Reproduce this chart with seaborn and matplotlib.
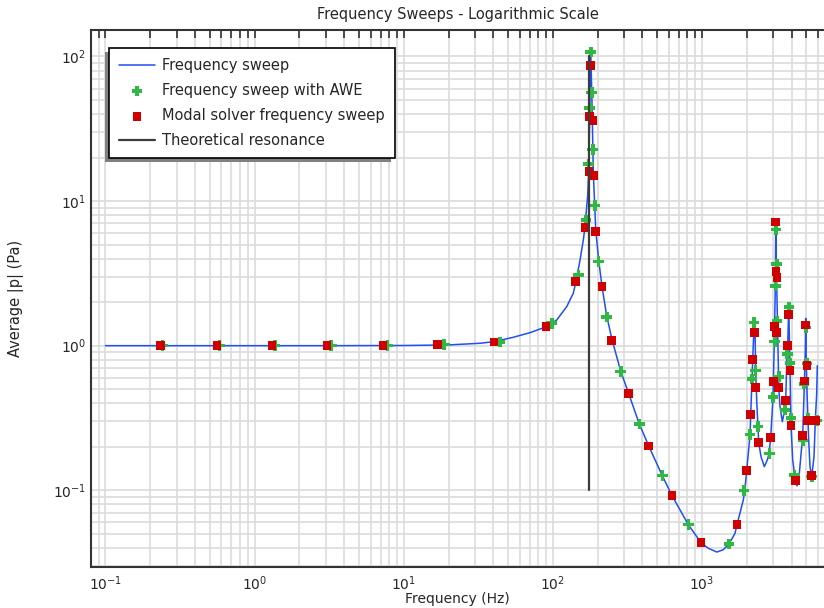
import matplotlib
matplotlib.use('Agg')
import matplotlib.pyplot as plt
import seaborn as sns
from matplotlib.patches import Rectangle

# Frequency sweep (blue curve): frequency in Hz, average |p| in Pa
sweep_freq = [0.1, 0.316, 1.0, 3.16, 10, 20, 32.5, 40.4, 54.4, 70.4,
              90.2, 106.4, 124.1, 137.4, 143, 152.5, 160.4, 164.7, 169.0, 171.7,
              174.5, 177.1, 179.8, 182.6, 184.5, 187.2, 191.3, 194.3, 203.5, 214.1,
              230.2, 249.8, 285.8, 323.4, 380.9, 440.5, 543.4, 631.1, 812.1,
              987.6, 1106, 1259, 1388, 1522, 1670, 1722, 1804, 1898, 1940,
              2000, 2106, 2128, 2171, 2194, 2249, 2274, 2298, 2334, 2407,
              2495, 2626, 2750, 2823, 2898, 3003, 3064, 3112, 3135, 3160,
              3195, 3245, 3280, 3347, 3467, 3597, 3653, 3727, 3768, 3826,
              3862, 3904, 3964, 4070, 4198, 4350, 4508, 4750, 4869, 4945,
              4975, 5021, 5099, 5210, 5317, 5459, 5656, 5770, 5897, 5951]
sweep_p = [1.0, 1.0, 1.0, 1.0, 1.003, 1.012, 1.039, 1.066, 1.143, 1.23,
           1.35, 1.506, 1.861, 2.304, 2.77, 3.91, 5.38, 6.65, 9.15, 11.0,
           17.0, 40.0, 110, 58, 35, 15.5, 9.35, 6.3, 3.87, 2.56,
           1.605, 1.104, 0.665, 0.466, 0.287, 0.2025, 0.126, 0.0918, 0.0578,
           0.0434, 0.0397, 0.0374, 0.0387, 0.0425, 0.0504, 0.0578, 0.0697, 0.0857, 0.0994,
           0.1366, 0.2424, 0.333, 0.588, 0.80, 1.50, 1.284, 0.672, 0.421, 0.2134,
           0.1708, 0.1456, 0.162, 0.179, 0.231, 0.4396, 1.066, 2.588, 7.40, 3.61,
           2.07, 0.934, 0.512, 0.379, 0.298, 0.359, 0.4165, 0.876, 1.0, 1.861,
           1.218, 0.672, 0.280, 0.162, 0.127, 0.107, 0.131, 0.2385, 0.535, 0.934,
           1.547, 0.751, 0.421, 0.2228, 0.1456, 0.1242, 0.1708, 0.303, 0.469, 0.727]

# Frequency sweep with AWE (green crosses)
awe_freq = [0.242, 0.581, 1.373, 3.27, 7.78, 18.7, 44.3, 98.5, 148.5, 167.3,
            174.3, 177.1, 179.8, 182.6, 185.5, 191.3, 202.2, 230.2, 285.8, 380.9,
            543.4, 812.1, 1522, 1919, 2106, 2171, 2239, 2298, 2382, 2836,
            3003, 3083, 3195, 3146, 3180, 3112, 3280, 3613, 3742, 3845,
            3904, 3964, 4172, 4772, 4847, 4999, 5069, 5459, 5173, 5897]
awe_p = [1.0, 1.0, 1.0, 1.0, 1.0, 1.02, 1.06, 1.43, 3.08, 7.40,
         18.06, 44.0, 107.5, 56.2, 22.8, 9.35, 3.83, 1.58, 0.665, 0.2874,
         0.1262, 0.0578, 0.0425, 0.0994, 0.2424, 0.588, 1.443, 0.6716, 0.2753, 0.179,
         0.4396, 1.066, 1.482, 6.38, 3.66, 2.588, 0.610, 0.359, 0.876, 1.843,
         0.7555, 0.3147, 0.127, 0.2203, 0.5434, 1.34, 0.751, 0.1242, 0.3127, 0.303]

# Modal solver frequency sweep (red squares)
modal_freq = [0.235, 0.560, 1.31, 3.06, 7.28, 16.9, 40.4, 90.2, 143, 166.5,
              194.3, 175.2, 187.2, 177.1, 184.3, 179.8, 214.1, 248.7, 323.4, 440.5,
              631.1, 987.6, 1722, 2000, 2128, 2194, 2263, 2298, 2407, 2898,
              3035, 3083, 3180, 3131, 3146, 3195, 3280, 3653, 3768, 3826,
              3904, 3964, 4264, 4750, 4900, 4975, 5069, 5459, 5069, 5459,
              5833]
modal_p = [1.0, 1.0, 1.0, 1.0, 1.0, 1.016, 1.06, 1.35, 2.77, 6.59,
           6.14, 15.97, 15.0, 38.3, 36.0, 86.4, 2.56, 1.083, 0.466, 0.2025,
           0.0918, 0.0434, 0.0578, 0.1366, 0.333, 0.80, 1.23, 0.5124, 0.2134, 0.231,
           0.5637, 1.353, 1.23, 7.17, 3.25, 2.95, 0.5124, 0.4165, 1.0, 1.639,
           0.6716, 0.2798, 0.1165, 0.2385, 0.570, 1.39, 0.727, 0.1262, 0.303, 0.303,
           0.303]

# Theoretical resonance
resonance_freq = [175.2, 175.2]
resonance_p = [0.1, 100]

sns.set_style('white')
plt.rcParams['font.family'] = ['DejaVu Sans']
plt.rcParams['font.size'] = 10
plt.rcParams['mathtext.default'] = 'regular'

W, H = 824, 608
fig = plt.figure(figsize=(W / 100, H / 100), dpi=100)
left, right, top, bottom = 91, 824, 30, 566.5
ax = fig.add_axes([left / W, (H - bottom) / H, (right - left) / W, (bottom - top) / H])
ax.set_xscale('log')
ax.set_yscale('log')

sns.lineplot(x=sweep_freq, y=sweep_p, ax=ax, color='#1f4ff5', lw=1.1,
             estimator=None, sort=False, label='Frequency sweep', zorder=2)
sns.scatterplot(x=awe_freq, y=awe_p, ax=ax, marker='P', s=60, color='#2fb844',
                edgecolor='none', label='Frequency sweep with AWE', zorder=3)
sns.scatterplot(x=modal_freq, y=modal_p, ax=ax, marker='s', s=40, color='#d10000',
                edgecolor='none', label='Modal solver frequency sweep', zorder=4)
sns.lineplot(x=resonance_freq, y=resonance_p, ax=ax, color='#3c3c3c', lw=1.6,
             estimator=None, sort=False, label='Theoretical resonance', zorder=4.5)

ax.set_xlim(0.08, 6600)
ax.set_ylim(0.0297, 152.5)

ax.grid(True, which='major', color='#dcdcdc', lw=1.2)
ax.grid(True, which='minor', color='#dcdcdc', lw=1.2)
ax.set_axisbelow(True)

for side in ['top', 'left', 'bottom']:
    ax.spines[side].set_color('#333333')
    ax.spines[side].set_linewidth(1.5)
ax.spines['right'].set_visible(False)
ax.tick_params(which='both', direction='in', top=True, right=False,
               length=6, width=1.1, color='#222222', labelsize=10)
ax.tick_params(axis='x', pad=6)

ax.set_title('Frequency Sweeps - Logarithmic Scale', fontsize=10.5, pad=8)
ax.set_xlabel('Frequency (Hz)', fontsize=10)
ax.set_ylabel('Average |p| (Pa)', fontsize=10.5)
ax.xaxis.set_label_coords(0.5, -0.048)
ax.yaxis.set_label_coords(-0.092, 0.5)

handles, labels = ax.get_legend_handles_labels()
leg = ax.legend(handles, labels, loc='upper left', borderaxespad=1.24, frameon=True,
                fancybox=False, edgecolor='black', framealpha=1, fontsize=10.5,
                handlelength=2.5, handletextpad=0.5, borderpad=0.66, labelspacing=0.7)
leg.get_frame().set_linewidth(1.2)

# shadow offset down-left behind the legend box
fig.canvas.draw()
bb = leg.get_window_extent()
inv = ax.transAxes.inverted()
x0, y0 = inv.transform((bb.x0 - 4, bb.y0 - 4))
x1, y1 = inv.transform((bb.x1 - 4, bb.y1 - 4))
ax.add_patch(Rectangle((x0, y0), x1 - x0, y1 - y0, transform=ax.transAxes,
                       facecolor='#808080', edgecolor='none', zorder=4.9, clip_on=False))

fig.savefig('out.png', dpi=100)
